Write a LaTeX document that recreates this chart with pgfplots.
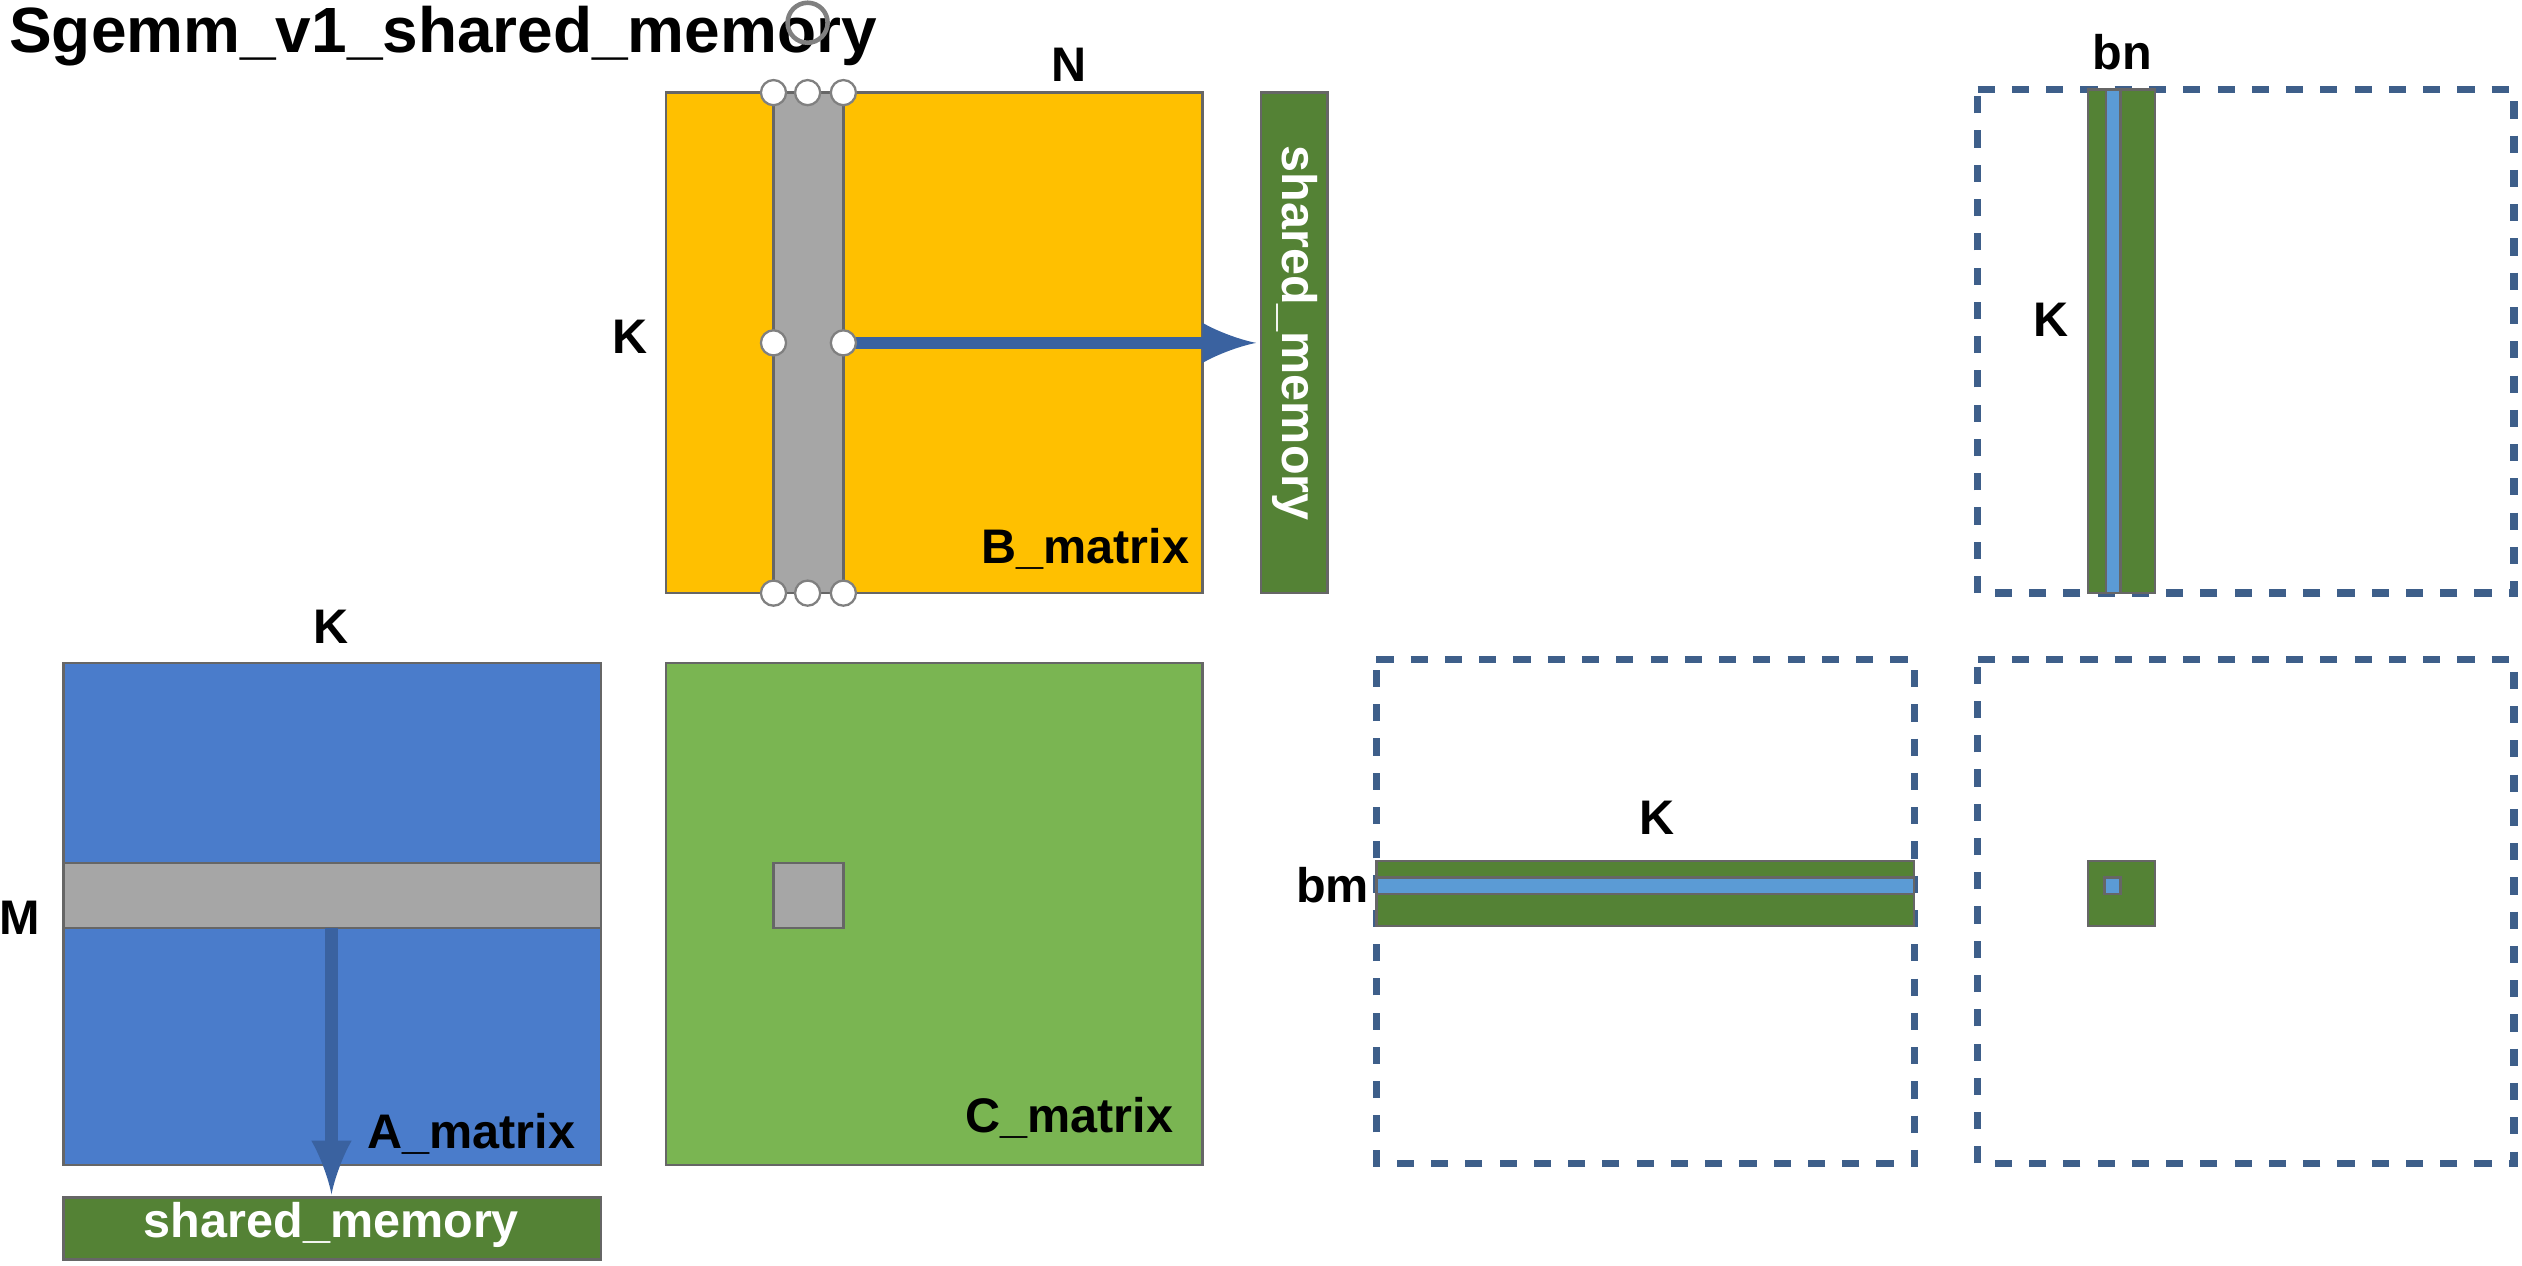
\documentclass[border=0pt]{standalone}
\usepackage{pgfplots}
\pgfplotsset{compat=1.18}
\usepackage{fontspec}
\setmainfont{Liberation Sans}
\definecolor{byel}{HTML}{FFC000}
\definecolor{agray}{HTML}{A6A6A6}
\definecolor{ablue}{HTML}{4A7CCB}
\definecolor{cgreen}{HTML}{7AB552}
\definecolor{dgreen}{HTML}{548235}
\definecolor{sblue}{HTML}{5B9BD5}
\definecolor{arrowblue}{HTML}{3A62A0}
\definecolor{dash}{HTML}{3E5F8A}
\newcommand\rect[5]{\addplot[#1] coordinates {(#2,#3)(#4,#3)(#4,#5)(#2,#5)} -- cycle;}
\begin{document}
\begin{tikzpicture}
\begin{axis}[scale only axis, width=15.52cm, height=7.79cm,
  xmin=0,xmax=1552,ymin=0,ymax=779, y dir=reverse, hide axis, clip=false]
\coordinate (bbA) at (axis cs:0,0);
\coordinate (bbB) at (axis cs:1552,779);
% B matrix
\rect{fill=byel,draw=black!60,thin}{410}{57}{740}{365}
\rect{fill=agray,draw=black!60,thin}{476}{57}{519}{365}
\addplot[only marks,mark=*,mark size=2.2pt,mark options={fill=white,draw=gray}] coordinates {(476,57)(497,57)(519,57)(476,211)(519,211)(476,365)(497,365)(519,365)};
\addplot[only marks,mark=o,mark size=3.5pt,mark options={draw=gray,thick}] coordinates {(497,14)};
\addplot[arrowblue,line width=2.2pt,-{latex}] coordinates {(519,211)(773,211)};
\rect{fill=dgreen,draw=black!60,thin}{776}{57}{817}{365}
\node[rotate=-90,white,font=\fontsize{8.5}{9}\bfseries] at (axis cs:797,205) {shared\_memory};
\node[font=\fontsize{8.5}{9}\bfseries] at (axis cs:658,40) {N};
\node[font=\fontsize{8.5}{9}\bfseries] at (axis cs:388,207) {K};
\node[font=\fontsize{8.5}{9}\bfseries] at (axis cs:668,338) {B\_matrix};
% bn box
\rect{draw=dash,dashed,line width=1.3pt}{1217}{55}{1547}{365}
\rect{fill=dgreen,draw=black!60,thin}{1285}{55}{1326}{365}
\rect{fill=sblue,draw=black!60,thin}{1296}{55}{1305}{365}
\node[font=\fontsize{8.5}{9}\bfseries] at (axis cs:1306,32) {bn};
\node[font=\fontsize{8.5}{9}\bfseries] at (axis cs:1262,197) {K};
% A matrix
\rect{fill=ablue,draw=black!60,thin}{39}{408}{370}{717}
\rect{fill=agray,draw=black!60,thin}{39}{531}{370}{571}
\addplot[arrowblue,line width=2.2pt,-{latex}] coordinates {(204,571)(204,735)};
\rect{fill=dgreen,draw=black!60,thin}{39}{737}{370}{775}
\node[white,font=\fontsize{8.5}{9}\bfseries] at (axis cs:204,754) {shared\_memory};
\node[font=\fontsize{8.5}{9}\bfseries] at (axis cs:204,386) {K};
\node[font=\fontsize{8.5}{9}\bfseries] at (axis cs:12,565) {M};
\node[font=\fontsize{8.5}{9}\bfseries] at (axis cs:290,698) {A\_matrix};
% C matrix
\rect{fill=cgreen,draw=black!60,thin}{410}{408}{740}{717}
\rect{fill=agray,draw=black!60,thin}{476}{531}{519}{571}
\node[font=\fontsize{8.5}{9}\bfseries] at (axis cs:658,688) {C\_matrix};
% bm box
\rect{draw=dash,dashed,line width=1.3pt}{847}{406}{1178}{716}
\rect{fill=dgreen,draw=black!60,thin}{847}{530}{1178}{570}
\rect{fill=sblue,draw=black!60,thin}{847}{540}{1178}{550}
\node[font=\fontsize{8.5}{9}\bfseries] at (axis cs:1020,503) {K};
\node[font=\fontsize{8.5}{9}\bfseries] at (axis cs:820,545) {bm};
% last box
\rect{draw=dash,dashed,line width=1.3pt}{1217}{406}{1547}{716}
\rect{fill=dgreen,draw=black!60,thin}{1285}{530}{1326}{570}
\rect{fill=sblue,draw=black!60,thin}{1295}{540}{1305}{550}
% title
\node[anchor=west,inner sep=0pt,font=\fontsize{11.2}{12}\bfseries] at (axis cs:5,22) {Sgemm\_v1\_shared\_memory};
\end{axis}
\pgfresetboundingbox
\path (bbA) rectangle (bbB);
\end{tikzpicture}
\end{document}
